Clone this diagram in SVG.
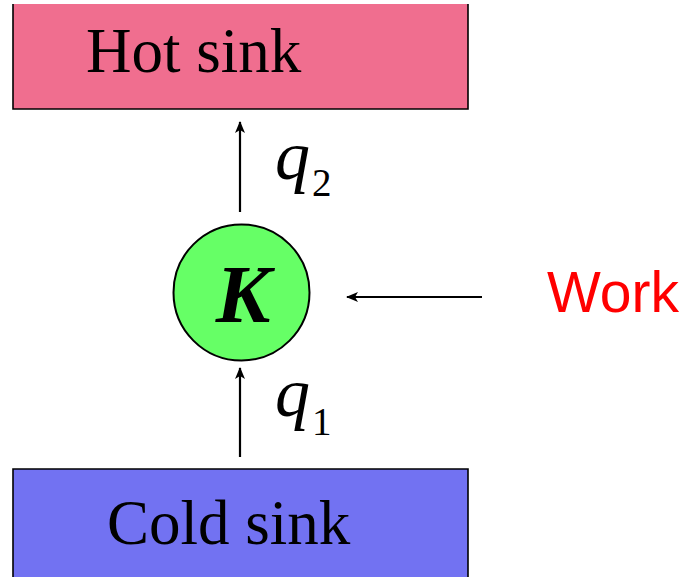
<svg xmlns="http://www.w3.org/2000/svg" width="700" height="577" viewBox="0 0 700 577">
<style>
.edge{stroke:#000;stroke-width:2.2;fill:none}
.box{stroke:#000;stroke-width:1.6;fill:none}
.serif{font-family:"Liberation Serif","Times New Roman",serif;fill:#000}
</style>
<defs>
<marker id="ah" viewBox="0 0 12 10" refX="11" refY="5" markerWidth="12" markerHeight="10" markerUnits="userSpaceOnUse" orient="auto">
<path d="M0,0 L12,5 L0,10 L3,5 Z" fill="#000"/>
</marker>
</defs>
<g id="hot">
<rect x="13" y="4" width="455" height="105" fill="#F06E8F"/>
<path class="box" d="M13,4 V109 H468 V4"/>
<text class="serif" x="86" y="72" font-size="63">Hot sink</text>
</g>
<g id="cold">
<rect x="13" y="469" width="455" height="110" fill="#7272F2"/>
<path class="box" d="M13,579 V469 H468 V579"/>
<text class="serif" x="107" y="544" font-size="63">Cold sink</text>
</g>
<g id="engine">
<circle cx="241.5" cy="292.5" r="68" fill="#66FF66" stroke="#000" stroke-width="2"/>
<text class="serif" x="243" y="322" font-size="82" font-weight="bold" font-style="italic" text-anchor="middle">K</text>
</g>
<g id="work">
<text x="547" y="312" font-family="'Liberation Sans',Arial,sans-serif" font-size="57" fill="#FF0000">Work</text>
</g>
<g id="connectors">
<line class="edge" x1="240" y1="212" x2="240" y2="122" marker-end="url(#ah)"/>
<line class="edge" x1="240" y1="457" x2="240" y2="368" marker-end="url(#ah)"/>
<line class="edge" x1="482" y1="297" x2="347" y2="297" marker-end="url(#ah)"/>
</g>
<g id="labels">
<text class="serif" x="275" y="179" font-size="70" font-style="italic">q</text>
<text class="serif" x="312" y="196" font-size="39">2</text>
<text class="serif" x="275" y="416" font-size="70" font-style="italic">q</text>
<text class="serif" x="312" y="435" font-size="39">1</text>
</g>
</svg>
